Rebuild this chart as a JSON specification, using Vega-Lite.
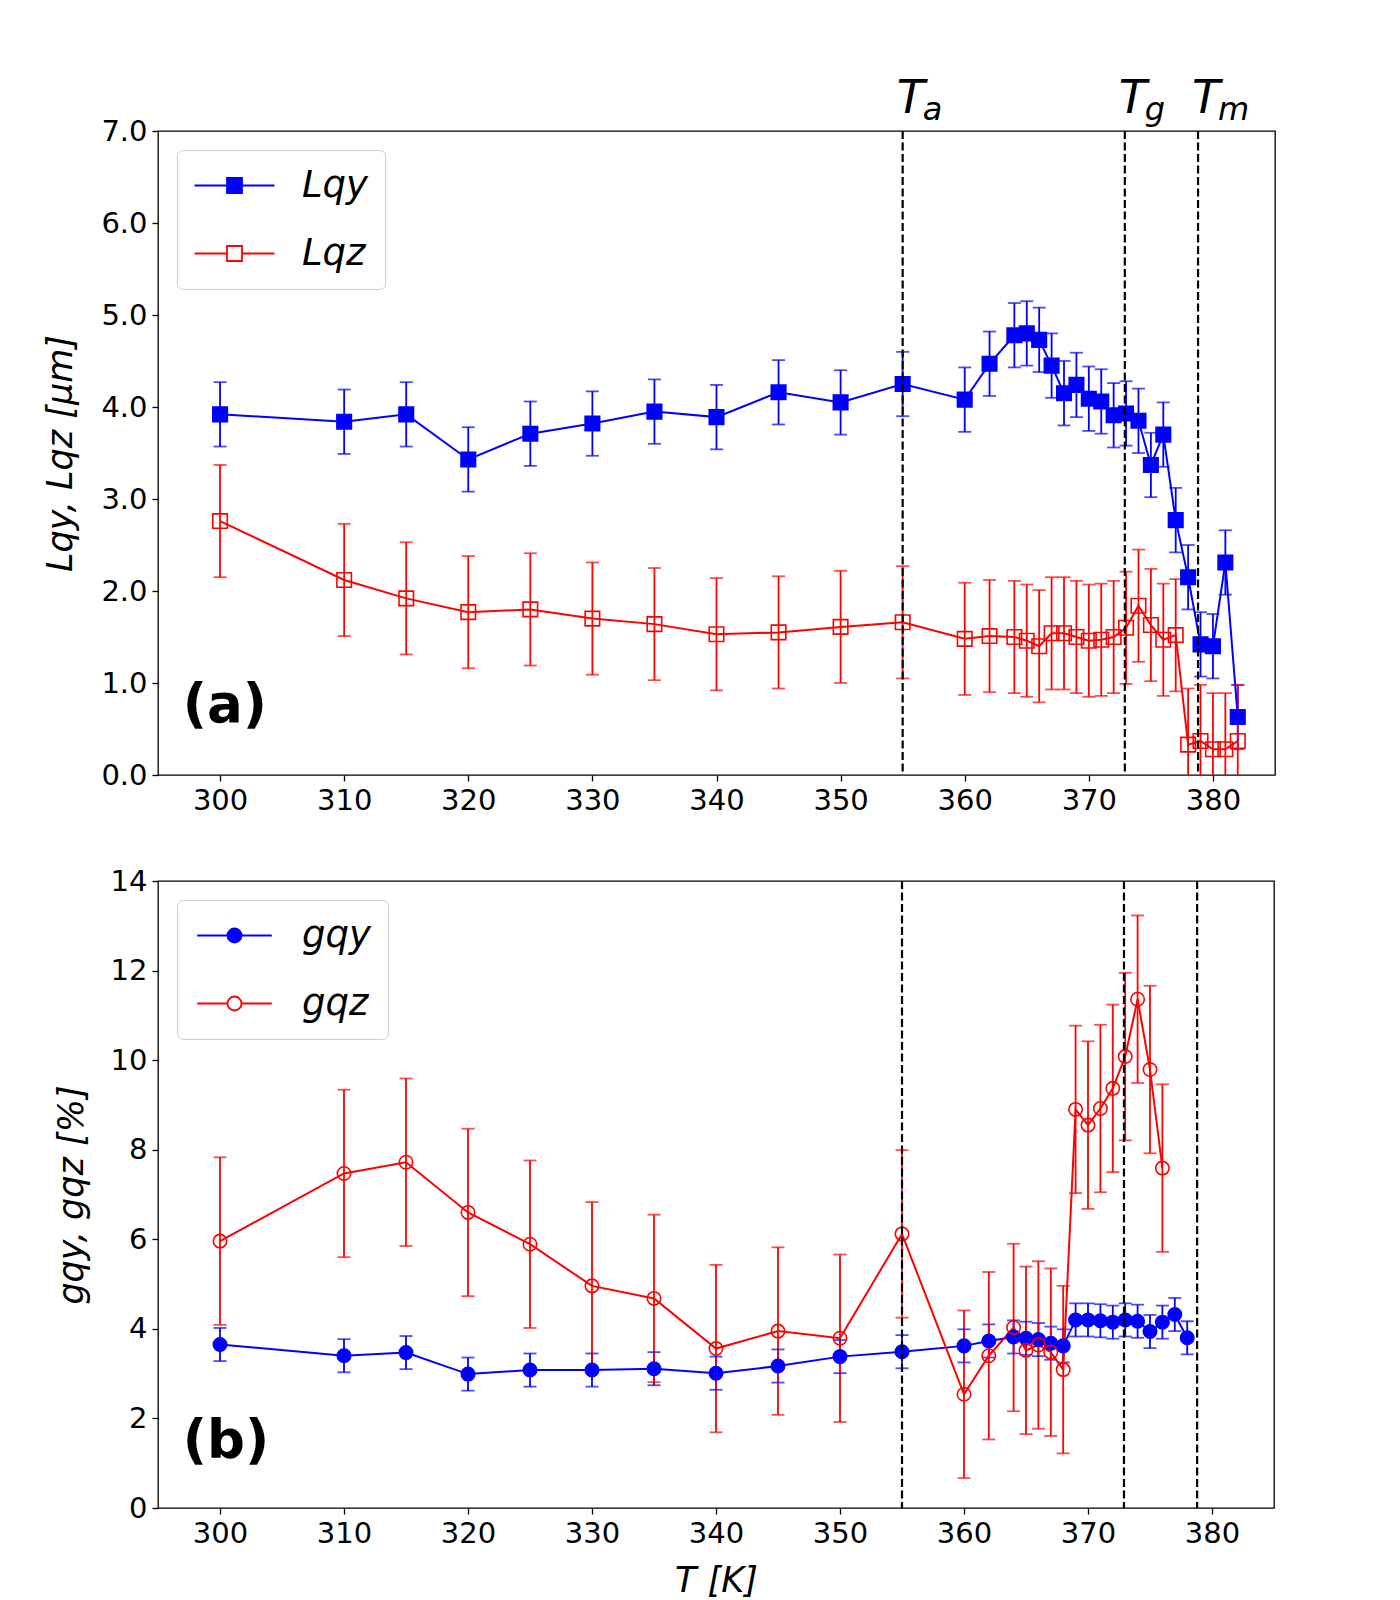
{
  "$schema": "https://vega.github.io/schema/vega-lite/v6.json",
  "background": "white",
  "padding": {"left": 43, "top": 75, "right": 10, "bottom": 5},
  "spacing": 50,
  "datasets": {
    "L": [
      {"T": 300, "s": "Lqy", "v": 3.92, "lo": 3.57, "hi": 4.27},
      {"T": 310, "s": "Lqy", "v": 3.84, "lo": 3.49, "hi": 4.19},
      {"T": 315, "s": "Lqy", "v": 3.92, "lo": 3.57, "hi": 4.27},
      {"T": 320, "s": "Lqy", "v": 3.43, "lo": 3.08, "hi": 3.78},
      {"T": 325, "s": "Lqy", "v": 3.71, "lo": 3.36, "hi": 4.06},
      {"T": 330, "s": "Lqy", "v": 3.82, "lo": 3.47, "hi": 4.17},
      {"T": 335, "s": "Lqy", "v": 3.95, "lo": 3.60, "hi": 4.30},
      {"T": 340, "s": "Lqy", "v": 3.89, "lo": 3.54, "hi": 4.24},
      {"T": 345, "s": "Lqy", "v": 4.16, "lo": 3.81, "hi": 4.51},
      {"T": 350, "s": "Lqy", "v": 4.05, "lo": 3.70, "hi": 4.40},
      {"T": 355, "s": "Lqy", "v": 4.25, "lo": 3.90, "hi": 4.60},
      {"T": 360, "s": "Lqy", "v": 4.08, "lo": 3.73, "hi": 4.43},
      {"T": 362, "s": "Lqy", "v": 4.47, "lo": 4.12, "hi": 4.82},
      {"T": 364, "s": "Lqy", "v": 4.78, "lo": 4.43, "hi": 5.13},
      {"T": 365, "s": "Lqy", "v": 4.80, "lo": 4.45, "hi": 5.15},
      {"T": 366, "s": "Lqy", "v": 4.73, "lo": 4.38, "hi": 5.08},
      {"T": 367, "s": "Lqy", "v": 4.45, "lo": 4.10, "hi": 4.80},
      {"T": 368, "s": "Lqy", "v": 4.15, "lo": 3.80, "hi": 4.50},
      {"T": 369, "s": "Lqy", "v": 4.24, "lo": 3.89, "hi": 4.59},
      {"T": 370, "s": "Lqy", "v": 4.09, "lo": 3.74, "hi": 4.44},
      {"T": 371, "s": "Lqy", "v": 4.06, "lo": 3.71, "hi": 4.41},
      {"T": 372, "s": "Lqy", "v": 3.91, "lo": 3.56, "hi": 4.26},
      {"T": 373, "s": "Lqy", "v": 3.93, "lo": 3.58, "hi": 4.28},
      {"T": 374, "s": "Lqy", "v": 3.85, "lo": 3.50, "hi": 4.20},
      {"T": 375, "s": "Lqy", "v": 3.37, "lo": 3.02, "hi": 3.72},
      {"T": 376, "s": "Lqy", "v": 3.70, "lo": 3.35, "hi": 4.05},
      {"T": 377, "s": "Lqy", "v": 2.77, "lo": 2.42, "hi": 3.12},
      {"T": 378, "s": "Lqy", "v": 2.15, "lo": 1.80, "hi": 2.50},
      {"T": 379, "s": "Lqy", "v": 1.42, "lo": 1.07, "hi": 1.77},
      {"T": 380, "s": "Lqy", "v": 1.40, "lo": 1.05, "hi": 1.75},
      {"T": 381, "s": "Lqy", "v": 2.31, "lo": 1.96, "hi": 2.66},
      {"T": 382, "s": "Lqy", "v": 0.63, "lo": 0.28, "hi": 0.98},
      {"T": 300, "s": "Lqz", "v": 2.76, "lo": 2.15, "hi": 3.37},
      {"T": 310, "s": "Lqz", "v": 2.12, "lo": 1.51, "hi": 2.73},
      {"T": 315, "s": "Lqz", "v": 1.92, "lo": 1.31, "hi": 2.53},
      {"T": 320, "s": "Lqz", "v": 1.77, "lo": 1.16, "hi": 2.38},
      {"T": 325, "s": "Lqz", "v": 1.80, "lo": 1.19, "hi": 2.41},
      {"T": 330, "s": "Lqz", "v": 1.70, "lo": 1.09, "hi": 2.31},
      {"T": 335, "s": "Lqz", "v": 1.64, "lo": 1.03, "hi": 2.25},
      {"T": 340, "s": "Lqz", "v": 1.53, "lo": 0.92, "hi": 2.14},
      {"T": 345, "s": "Lqz", "v": 1.55, "lo": 0.94, "hi": 2.16},
      {"T": 350, "s": "Lqz", "v": 1.61, "lo": 1.00, "hi": 2.22},
      {"T": 355, "s": "Lqz", "v": 1.66, "lo": 1.05, "hi": 2.27},
      {"T": 360, "s": "Lqz", "v": 1.48, "lo": 0.87, "hi": 2.09},
      {"T": 362, "s": "Lqz", "v": 1.51, "lo": 0.90, "hi": 2.12},
      {"T": 364, "s": "Lqz", "v": 1.50, "lo": 0.89, "hi": 2.11},
      {"T": 365, "s": "Lqz", "v": 1.46, "lo": 0.85, "hi": 2.07},
      {"T": 366, "s": "Lqz", "v": 1.40, "lo": 0.79, "hi": 2.01},
      {"T": 367, "s": "Lqz", "v": 1.54, "lo": 0.93, "hi": 2.15},
      {"T": 368, "s": "Lqz", "v": 1.54, "lo": 0.93, "hi": 2.15},
      {"T": 369, "s": "Lqz", "v": 1.50, "lo": 0.89, "hi": 2.11},
      {"T": 370, "s": "Lqz", "v": 1.46, "lo": 0.85, "hi": 2.07},
      {"T": 371, "s": "Lqz", "v": 1.47, "lo": 0.86, "hi": 2.08},
      {"T": 372, "s": "Lqz", "v": 1.50, "lo": 0.89, "hi": 2.11},
      {"T": 373, "s": "Lqz", "v": 1.60, "lo": 0.99, "hi": 2.21},
      {"T": 374, "s": "Lqz", "v": 1.84, "lo": 1.23, "hi": 2.45},
      {"T": 375, "s": "Lqz", "v": 1.63, "lo": 1.02, "hi": 2.24},
      {"T": 376, "s": "Lqz", "v": 1.47, "lo": 0.86, "hi": 2.08},
      {"T": 377, "s": "Lqz", "v": 1.52, "lo": 0.91, "hi": 2.13},
      {"T": 378, "s": "Lqz", "v": 0.33, "lo": -0.28, "hi": 0.94},
      {"T": 379, "s": "Lqz", "v": 0.37, "lo": -0.24, "hi": 0.98},
      {"T": 380, "s": "Lqz", "v": 0.28, "lo": -0.33, "hi": 0.89},
      {"T": 381, "s": "Lqz", "v": 0.28, "lo": -0.33, "hi": 0.89},
      {"T": 382, "s": "Lqz", "v": 0.37, "lo": -0.24, "hi": 0.98}
    ],
    "g": [
      {"T": 300, "s": "gqy", "v": 3.65, "lo": 3.28, "hi": 4.02},
      {"T": 310, "s": "gqy", "v": 3.40, "lo": 3.03, "hi": 3.77},
      {"T": 315, "s": "gqy", "v": 3.47, "lo": 3.10, "hi": 3.84},
      {"T": 320, "s": "gqy", "v": 2.99, "lo": 2.62, "hi": 3.36},
      {"T": 325, "s": "gqy", "v": 3.08, "lo": 2.71, "hi": 3.45},
      {"T": 330, "s": "gqy", "v": 3.08, "lo": 2.71, "hi": 3.45},
      {"T": 335, "s": "gqy", "v": 3.11, "lo": 2.74, "hi": 3.48},
      {"T": 340, "s": "gqy", "v": 3.01, "lo": 2.64, "hi": 3.38},
      {"T": 345, "s": "gqy", "v": 3.17, "lo": 2.80, "hi": 3.54},
      {"T": 350, "s": "gqy", "v": 3.38, "lo": 3.01, "hi": 3.75},
      {"T": 355, "s": "gqy", "v": 3.49, "lo": 3.12, "hi": 3.86},
      {"T": 360, "s": "gqy", "v": 3.62, "lo": 3.25, "hi": 3.99},
      {"T": 362, "s": "gqy", "v": 3.73, "lo": 3.36, "hi": 4.10},
      {"T": 364, "s": "gqy", "v": 3.82, "lo": 3.45, "hi": 4.19},
      {"T": 365, "s": "gqy", "v": 3.79, "lo": 3.42, "hi": 4.16},
      {"T": 366, "s": "gqy", "v": 3.76, "lo": 3.39, "hi": 4.13},
      {"T": 367, "s": "gqy", "v": 3.68, "lo": 3.31, "hi": 4.05},
      {"T": 368, "s": "gqy", "v": 3.62, "lo": 3.25, "hi": 3.99},
      {"T": 369, "s": "gqy", "v": 4.20, "lo": 3.83, "hi": 4.57},
      {"T": 370, "s": "gqy", "v": 4.20, "lo": 3.83, "hi": 4.57},
      {"T": 371, "s": "gqy", "v": 4.18, "lo": 3.81, "hi": 4.55},
      {"T": 372, "s": "gqy", "v": 4.15, "lo": 3.78, "hi": 4.52},
      {"T": 373, "s": "gqy", "v": 4.20, "lo": 3.83, "hi": 4.57},
      {"T": 374, "s": "gqy", "v": 4.17, "lo": 3.80, "hi": 4.54},
      {"T": 375, "s": "gqy", "v": 3.94, "lo": 3.57, "hi": 4.31},
      {"T": 376, "s": "gqy", "v": 4.15, "lo": 3.78, "hi": 4.52},
      {"T": 377, "s": "gqy", "v": 4.32, "lo": 3.95, "hi": 4.69},
      {"T": 378, "s": "gqy", "v": 3.80, "lo": 3.43, "hi": 4.17},
      {"T": 300, "s": "gqz", "v": 5.96, "lo": 4.09, "hi": 7.83},
      {"T": 310, "s": "gqz", "v": 7.47, "lo": 5.60, "hi": 9.34},
      {"T": 315, "s": "gqz", "v": 7.72, "lo": 5.85, "hi": 9.59},
      {"T": 320, "s": "gqz", "v": 6.60, "lo": 4.73, "hi": 8.47},
      {"T": 325, "s": "gqz", "v": 5.89, "lo": 4.02, "hi": 7.76},
      {"T": 330, "s": "gqz", "v": 4.96, "lo": 3.09, "hi": 6.83},
      {"T": 335, "s": "gqz", "v": 4.68, "lo": 2.81, "hi": 6.55},
      {"T": 340, "s": "gqz", "v": 3.56, "lo": 1.69, "hi": 5.43},
      {"T": 345, "s": "gqz", "v": 3.95, "lo": 2.08, "hi": 5.82},
      {"T": 350, "s": "gqz", "v": 3.79, "lo": 1.92, "hi": 5.66},
      {"T": 355, "s": "gqz", "v": 6.12, "lo": 4.25, "hi": 7.99},
      {"T": 360, "s": "gqz", "v": 2.54, "lo": 0.67, "hi": 4.41},
      {"T": 362, "s": "gqz", "v": 3.40, "lo": 1.53, "hi": 5.27},
      {"T": 364, "s": "gqz", "v": 4.03, "lo": 2.16, "hi": 5.90},
      {"T": 365, "s": "gqz", "v": 3.52, "lo": 1.65, "hi": 5.39},
      {"T": 366, "s": "gqz", "v": 3.64, "lo": 1.77, "hi": 5.51},
      {"T": 367, "s": "gqz", "v": 3.48, "lo": 1.61, "hi": 5.35},
      {"T": 368, "s": "gqz", "v": 3.09, "lo": 1.22, "hi": 4.96},
      {"T": 369, "s": "gqz", "v": 8.90, "lo": 7.03, "hi": 10.77},
      {"T": 370, "s": "gqz", "v": 8.55, "lo": 6.68, "hi": 10.42},
      {"T": 371, "s": "gqz", "v": 8.92, "lo": 7.05, "hi": 10.79},
      {"T": 372, "s": "gqz", "v": 9.37, "lo": 7.50, "hi": 11.24},
      {"T": 373, "s": "gqz", "v": 10.08, "lo": 8.21, "hi": 11.95},
      {"T": 374, "s": "gqz", "v": 11.36, "lo": 9.49, "hi": 13.23},
      {"T": 375, "s": "gqz", "v": 9.79, "lo": 7.92, "hi": 11.66},
      {"T": 376, "s": "gqz", "v": 7.59, "lo": 5.72, "hi": 9.46}
    ],
    "marks": [
      {"T": 355, "sub": "a"},
      {"T": 372.9, "sub": "g"},
      {"T": 378.8, "sub": "m"}
    ]
  },
  "vconcat": [
    {
      "width": 1117,
      "height": 644,
      "layer": [
        {
          "data": {"name": "L"},
          "mark": {"type": "rule", "strokeWidth": 1.8, "clip": true},
          "encoding": {
            "x": {"field": "T", "type": "quantitative", "scale": {"domain": [295, 385], "nice": false}, "axis": {"values": [300, 310, 320, 330, 340, 350, 360, 370, 380], "title": null}},
            "y": {"field": "lo", "type": "quantitative", "scale": {"domain": [0, 7], "nice": false}, "axis": {"values": [0, 1, 2, 3, 4, 5, 6, 7], "format": ".1f", "titlePadding": 22, "titleFontStyle": "italic"}, "title": "Lqy, Lqz [μm]"},
            "y2": {"field": "hi"},
            "color": {"field": "s", "type": "nominal", "scale": {"domain": ["Lqz", "Lqy"], "range": ["#ff0000", "#0000ff"]}, "legend": null}
          }
        },
        {
          "data": {"name": "L"},
          "mark": {"type": "tick", "orient": "horizontal", "size": 13, "thickness": 1.8, "clip": true},
          "encoding": {
            "x": {"field": "T", "type": "quantitative"},
            "y": {"field": "lo", "type": "quantitative", "title": "Lqy, Lqz [μm]"},
            "color": {"field": "s", "type": "nominal", "legend": null}
          }
        },
        {
          "data": {"name": "L"},
          "mark": {"type": "tick", "orient": "horizontal", "size": 13, "thickness": 1.8, "clip": true},
          "encoding": {
            "x": {"field": "T", "type": "quantitative"},
            "y": {"field": "hi", "type": "quantitative", "title": "Lqy, Lqz [μm]"},
            "color": {"field": "s", "type": "nominal", "legend": null}
          }
        },
        {
          "data": {"name": "L"},
          "mark": {"type": "line", "strokeWidth": 2, "clip": true},
          "encoding": {
            "x": {"field": "T", "type": "quantitative"},
            "y": {"field": "v", "type": "quantitative", "title": "Lqy, Lqz [μm]"},
            "color": {"field": "s", "type": "nominal", "legend": null}
          }
        },
        {
          "data": {"name": "L"},
          "mark": {"type": "point", "shape": "square", "size": 210, "opacity": 1, "strokeWidth": 1.6, "clip": true},
          "encoding": {
            "x": {"field": "T", "type": "quantitative"},
            "y": {"field": "v", "type": "quantitative", "title": "Lqy, Lqz [μm]"},
            "stroke": {"field": "s", "type": "nominal", "scale": {"domain": ["Lqy", "Lqz"], "range": ["#0000ff", "#ff0000"]},
              "legend": {"title": null, "orient": "top-left", "offset": 19, "padding": 17, "symbolType": "M-5.33,0H-1M1,0H5.33M-1,-1H1V1H-1Z", "symbolSize": 225, "symbolOffset": 22, "symbolStrokeWidth": 1.8, "labelFontSize": 37, "labelFontStyle": "italic", "labelOffset": 49, "rowPadding": 30, "strokeColor": "#cccccc", "cornerRadius": 6, "fillColor": "white", "labelColor": "black"}},
            "fill": {"field": "s", "type": "nominal", "scale": {"domain": ["Lqy", "Lqz"], "range": ["#0000ff", "transparent"]},
              "legend": {"title": null, "orient": "top-left", "offset": 19, "padding": 17, "symbolType": "M-5.33,0H-1M1,0H5.33M-1,-1H1V1H-1Z", "symbolSize": 225, "symbolOffset": 22, "symbolStrokeWidth": 1.8, "labelFontSize": 37, "labelFontStyle": "italic", "labelOffset": 49, "rowPadding": 30, "strokeColor": "#cccccc", "cornerRadius": 6, "fillColor": "white", "labelColor": "black"}}
          }
        },
        {
          "data": {"name": "marks"},
          "mark": {"type": "rule", "color": "black", "strokeWidth": 2.2, "strokeDash": [8, 3.5]},
          "encoding": {
            "x": {"field": "T", "type": "quantitative"}
          }
        },
        {
          "data": {"name": "marks"},
          "mark": {"type": "text", "text": "T", "fontSize": 46, "fontStyle": "italic", "align": "left", "baseline": "alphabetic", "dx": -6, "dy": -18, "color": "black"},
          "encoding": {
            "x": {"field": "T", "type": "quantitative"},
            "y": {"datum": 7}
          }
        },
        {
          "data": {"name": "marks"},
          "mark": {"type": "text", "fontSize": 32, "fontStyle": "italic", "align": "left", "baseline": "alphabetic", "dx": 20, "dy": -11, "color": "black"},
          "encoding": {
            "x": {"field": "T", "type": "quantitative"},
            "y": {"datum": 7},
            "text": {"field": "sub"}
          }
        },
        {
          "data": {"values": [{"label": "(a)"}]},
          "mark": {"type": "text", "fontSize": 53, "fontWeight": "bold", "align": "left", "baseline": "alphabetic", "color": "black"},
          "encoding": {
            "x": {"datum": 297},
            "y": {"datum": 0.58},
            "text": {"field": "label"}
          }
        }
      ]
    },
    {
      "width": 1116,
      "height": 627,
      "layer": [
        {
          "data": {"name": "g"},
          "mark": {"type": "rule", "strokeWidth": 1.8, "clip": true},
          "encoding": {
            "x": {"field": "T", "type": "quantitative", "scale": {"domain": [295, 385], "nice": false}, "axis": {"values": [300, 310, 320, 330, 340, 350, 360, 370, 380], "titleFontStyle": "italic", "titlePadding": 15}, "title": "T [K]"},
            "y": {"field": "lo", "type": "quantitative", "scale": {"domain": [0, 14], "nice": false}, "axis": {"values": [0, 2, 4, 6, 8, 10, 12, 14], "titlePadding": 21, "titleFontStyle": "italic"}, "title": "gqy, gqz [%]"},
            "y2": {"field": "hi"},
            "color": {"field": "s", "type": "nominal", "scale": {"domain": ["gqz", "gqy"], "range": ["#ff0000", "#0000ff"]}, "legend": null}
          }
        },
        {
          "data": {"name": "g"},
          "mark": {"type": "tick", "orient": "horizontal", "size": 13, "thickness": 1.8, "clip": true},
          "encoding": {
            "x": {"field": "T", "type": "quantitative", "title": "T [K]"},
            "y": {"field": "lo", "type": "quantitative", "title": "gqy, gqz [%]"},
            "color": {"field": "s", "type": "nominal", "legend": null}
          }
        },
        {
          "data": {"name": "g"},
          "mark": {"type": "tick", "orient": "horizontal", "size": 13, "thickness": 1.8, "clip": true},
          "encoding": {
            "x": {"field": "T", "type": "quantitative", "title": "T [K]"},
            "y": {"field": "hi", "type": "quantitative", "title": "gqy, gqz [%]"},
            "color": {"field": "s", "type": "nominal", "legend": null}
          }
        },
        {
          "data": {"name": "g"},
          "mark": {"type": "line", "strokeWidth": 2, "clip": true},
          "encoding": {
            "x": {"field": "T", "type": "quantitative", "title": "T [K]"},
            "y": {"field": "v", "type": "quantitative", "title": "gqy, gqz [%]"},
            "color": {"field": "s", "type": "nominal", "legend": null}
          }
        },
        {
          "data": {"name": "g"},
          "mark": {"type": "point", "shape": "circle", "size": 180, "opacity": 1, "strokeWidth": 1.6, "clip": true},
          "encoding": {
            "x": {"field": "T", "type": "quantitative", "title": "T [K]"},
            "y": {"field": "v", "type": "quantitative", "title": "gqy, gqz [%]"},
            "stroke": {"field": "s", "type": "nominal", "scale": {"domain": ["gqy", "gqz"], "range": ["#0000ff", "#ff0000"]},
              "legend": {"title": null, "orient": "top-left", "offset": 19, "padding": 17, "symbolType": "M-5.33,0H-1M1,0H5.33M-1,0A1,1 0 1,1 1,0A1,1 0 1,1 -1,0Z", "symbolSize": 196, "symbolOffset": 22, "symbolStrokeWidth": 1.8, "labelFontSize": 37, "labelFontStyle": "italic", "labelOffset": 49, "rowPadding": 30, "strokeColor": "#cccccc", "cornerRadius": 6, "fillColor": "white", "labelColor": "black"}},
            "fill": {"field": "s", "type": "nominal", "scale": {"domain": ["gqy", "gqz"], "range": ["#0000ff", "transparent"]},
              "legend": {"title": null, "orient": "top-left", "offset": 19, "padding": 17, "symbolType": "M-5.33,0H-1M1,0H5.33M-1,0A1,1 0 1,1 1,0A1,1 0 1,1 -1,0Z", "symbolSize": 196, "symbolOffset": 22, "symbolStrokeWidth": 1.8, "labelFontSize": 37, "labelFontStyle": "italic", "labelOffset": 49, "rowPadding": 30, "strokeColor": "#cccccc", "cornerRadius": 6, "fillColor": "white", "labelColor": "black"}}
          }
        },
        {
          "data": {"name": "marks"},
          "mark": {"type": "rule", "color": "black", "strokeWidth": 2.2, "strokeDash": [8, 3.5]},
          "encoding": {
            "x": {"field": "T", "type": "quantitative", "title": "T [K]"}
          }
        },
        {
          "data": {"values": [{"label": "(b)"}]},
          "mark": {"type": "text", "fontSize": 53, "fontWeight": "bold", "align": "left", "baseline": "alphabetic", "color": "black"},
          "encoding": {
            "x": {"datum": 297},
            "y": {"datum": 1.12},
            "text": {"field": "label"}
          }
        }
      ]
    }
  ],
  "resolve": {"scale": {"x": "independent", "y": "independent", "color": "independent", "stroke": "independent", "fill": "independent"}},
  "config": {
    "font": "DejaVu Sans",
    "view": {"stroke": "black", "strokeWidth": 1.3},
    "axis": {
      "domain": false,
      "grid": false,
      "ticks": true,
      "tickColor": "black",
      "tickSize": 6,
      "tickWidth": 1.3,
      "labelFont": "DejaVu Sans",
      "labelFontSize": 29,
      "labelColor": "black",
      "labelPadding": 5,
      "titleFont": "DejaVu Sans",
      "titleFontSize": 35,
      "titleFontWeight": "normal",
      "titleColor": "black"
    }
  }
}
